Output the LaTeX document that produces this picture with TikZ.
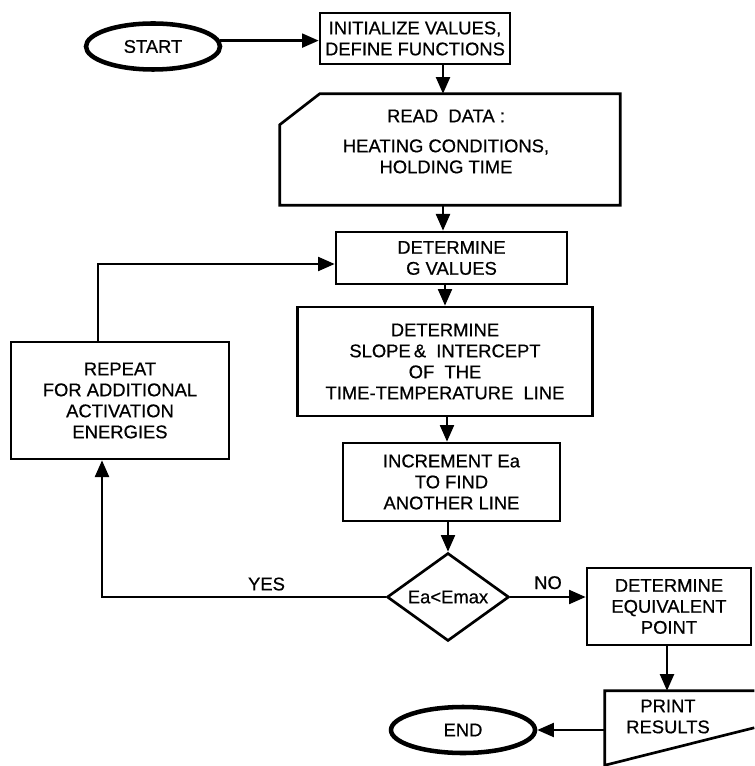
\documentclass[tikz,border=0pt]{standalone}
\usepackage{fontspec}
\setmainfont{Liberation Sans}[FakeBold=0.6]
\usetikzlibrary{arrows.meta,shapes.geometric}
\begin{document}
\begin{tikzpicture}[x=0.75pt,y=-0.75pt,
  every node/.style={font=\fontsize{13.8}{15.75}\selectfont, align=center, inner sep=0pt},
  sz/.style 2 args={minimum width=#1*0.75pt, minimum height=#2*0.75pt},
  box/.style={draw, rectangle, line width=2pt},
  term/.style={draw, ellipse, line width=3.4pt},
  dec/.style={draw, diamond, aspect=1.4, line width=2pt},
  arr/.style={line width=1.7pt, -{Triangle[length=12.5pt,width=10.5pt]}},
  ln/.style={line width=1.7pt}
]
\useasboundingbox (0,0) rectangle (754,766);

% nodes
\node[term, sz={134}{46}] (start) at (153,46.5) {START};
\node[box, sz={190}{51}] (init) at (415,38.5) {INITIALIZE VALUES,\\DEFINE FUNCTIONS};
\node[sz={340}{111}] (read) at (450,149.5) {};
\node (readtxt) at (446,141.5) {READ\ \ DATA :\\[6.75pt]HEATING CONDITIONS,\\HOLDING TIME};
\node[box, sz={231}{52}] (gval) at (451.5,258) {DETERMINE\\G VALUES};
\node[box, sz={295}{109}] (slope) at (445,361.5) {DETERMINE\\SLOPE\,\&\ \ INTERCEPT\\OF\ \ THE\\TIME-TEMPERATURE\ \ LINE};
\node[box, sz={217}{78}] (incr) at (451.5,482) {INCREMENT Ea\\TO FIND\\ANOTHER LINE};
\node[dec, sz={122}{88}] (dia) at (448,597) {Ea<Emax};
\node[box, sz={218}{117}] (rep) at (120,400.5) {REPEAT\\FOR ADDITIONAL\\ACTIVATION\\ENERGIES};
\node[box, sz={164}{77}] (equiv) at (669,606.5) {DETERMINE\\EQUIVALENT\\POINT};
\node[sz={149}{74}] (prt) at (679.5,728) {};
\node (prttxt) at (668,716.5) {PRINT\\RESULTS};
\node[term, sz={144}{46}] (end) at (463,730) {END};

% shapes drawn directly
\draw[line width=2pt, line join=miter]
  (read.north west) ++(40,0) -- (read.north east) -- (read.south east)
  -- (read.south west) -- ([yshift=-31*0.75pt]read.north west) -- cycle;
\draw[line width=2pt]
  (prt.north east) -- (prt.north west) -- (prt.south west) -- ([yshift=-37*0.75pt]prt.north east);

% spine coordinates
\coordinate (s1) at (443,0);
\coordinate (s2) at (445,0);
\coordinate (s3) at (447,0);
\coordinate (loopup) at (98,264);
\coordinate (yesx) at (102,0);
\coordinate (px) at (667,0);

% connectors
\draw[arr] (start.5) -- (start.5 -| init.west);
\draw[arr] (init.south -| s1) -- (read.north -| s1);
\draw[arr] (read.south -| s1) -- (gval.north -| s1);
\draw[arr] (gval.south -| s2) -- (slope.north -| s2);
\draw[arr] (slope.south -| s3) -- (incr.north -| s3);
\draw[arr] (incr.south -| dia.north) -- (dia.north);
\draw[arr] (dia.east) -- node[above=5pt, pos=0.5] {NO} (dia.east -| equiv.west);
\draw[arr] (dia.west) -| node[pos=0.21, above=4pt] {YES} (rep.south -| yesx);
\draw[arr] (rep.north -| loopup) |- (loopup -| gval.west);
\draw[arr] (equiv.south -| px) -- (prt.north -| px);
\draw[arr] (prt.west |- end.east) -- (end.east);
\end{tikzpicture}
\end{document}
